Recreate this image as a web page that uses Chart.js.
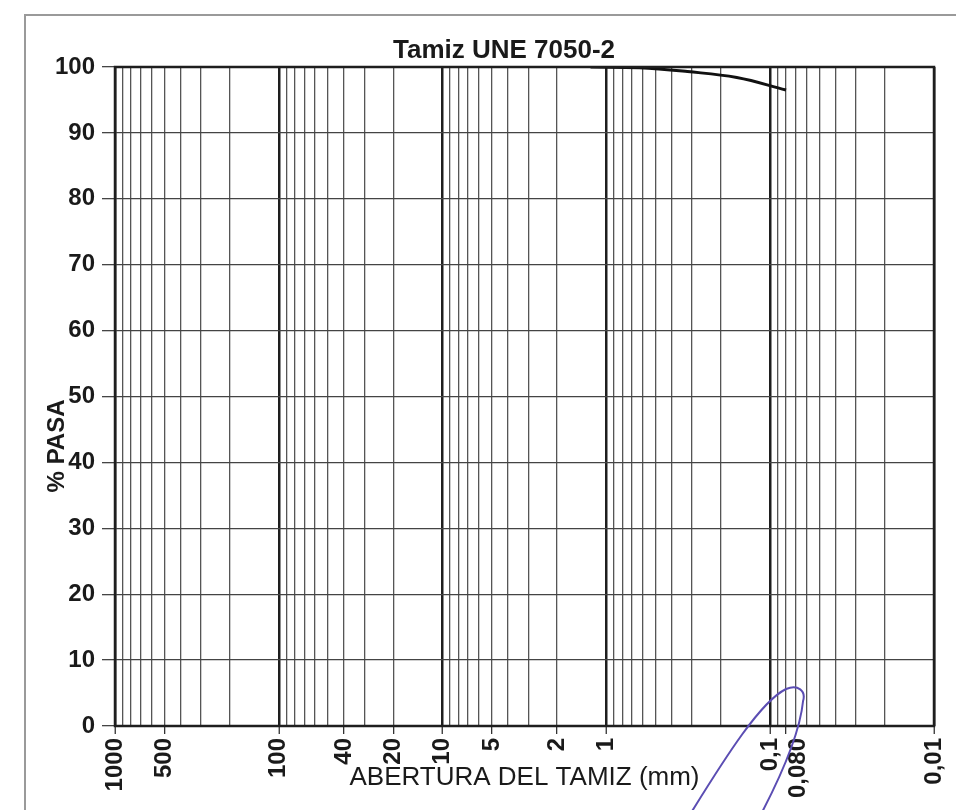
<!DOCTYPE html>
<html lang="es">
<head>
    <meta charset="UTF-8">
    <title>Tamiz UNE 7050-2</title>
    <script src="https://cdn.jsdelivr.net/npm/chart.js"></script>
    <style>
        html, body { margin: 0; padding: 0; background: #fff; }
        #wrap { width: 956px; height: 810px; position: relative; }
    </style>
</head>
<body>
<div id="wrap">
    <canvas id="granChart" width="956" height="810"></canvas>
</div>
<script>
    // abertura de tamiz (mm) y % que pasa
    const sieveSizes = [1.25, 0.63, 0.32, 0.16, 0.08];
    const pasaValues = [100, 99.9, 99.3, 98.4, 96.5];

    // etiquetas del eje X
    const xTickValues = [1000, 500, 100, 40, 20, 10, 5, 2, 1, 0.1, 0.08, 0.01];
    const xTickLabels = ['1000', '500', '100', '40', '20', '10', '5', '2', '1', '0,1', '0,080', '0,01'];

    // rejilla logaritmica
    const decades = [0.01, 0.1, 1, 10, 100];
    const multiples = [1, 2, 3, 4, 5, 6, 7, 8, 9];

    const chartTitle = 'Tamiz UNE 7050-2';
    const xTitle = 'ABERTURA DEL TAMIZ (mm)';
    const yTitle = '% PASA';

    const FONT = "'Liberation Sans', Arial, sans-serif";

    const gridValues = [];
    decades.forEach(d => multiples.forEach(m => gridValues.push(+(d * m).toPrecision(3))));
    gridValues.push(1000);

    function isDecade(v) {
        const l = Math.log10(v);
        return Math.abs(l - Math.round(l)) < 1e-6;
    }
    function labelFor(v) {
        const i = xTickValues.findIndex(t => Math.abs(t - v) / t < 1e-6);
        return i >= 0 ? xTickLabels[i] : '';
    }
    // la etiqueta 0,080 va corrida a la derecha para no pisar 0,1
    const shiftedValue = 0.08;
    function isShifted(v) { return Math.abs(v - shiftedValue) < 1e-9; }

    const points = sieveSizes.map((s, i) => ({ x: s, y: pasaValues[i] }));

    // marco, titulo, borde del grafico y anotacion a mano
    const extras = {
        id: 'extras',
        beforeDraw(chart) {
            const c = chart.ctx;
            c.save();
            c.fillStyle = '#fff';
            c.fillRect(0, 0, chart.width, chart.height);
            c.strokeStyle = '#9a9a9a';
            c.lineWidth = 2;
            c.beginPath();
            c.moveTo(25, chart.height);
            c.lineTo(25, 15);
            c.lineTo(chart.width, 15);
            c.stroke();
            c.restore();
        },
        afterDraw(chart) {
            const c = chart.ctx;
            const a = chart.chartArea;
            const ys = chart.scales.y;
            const xs = chart.scales.x;
            c.save();
            c.strokeStyle = '#1e1e1e';
            c.lineWidth = 2.5;
            c.strokeRect(a.left, a.top, a.right - a.left, a.bottom - a.top);

            c.fillStyle = '#1a1a1a';
            c.font = 'bold 26px ' + FONT;
            c.textAlign = 'center';
            c.textBaseline = 'alphabetic';
            c.fillText(chartTitle, 504, 58);

            c.translate(57, ys.getPixelForValue(42.5));
            c.rotate(-Math.PI / 2);
            c.font = 'bold 24px ' + FONT;
            c.textBaseline = 'middle';
            c.fillText(yTitle, 0, 0);
            c.restore();

            // elipse morada dibujada a mano alrededor de 0,080
            const px = xs.getPixelForValue(0.08);
            const py = a.bottom;
            c.save();
            c.strokeStyle = '#5b4db3';
            c.lineWidth = 2;
            c.beginPath();
            c.moveTo(px - 97, py + 90);
            c.bezierCurveTo(px - 60, py + 30, px - 25, py - 25, px, py - 37);
            c.bezierCurveTo(px + 12, py - 42, px + 20, py - 35, px + 17, py - 25);
            c.bezierCurveTo(px + 14, py + 5, px - 5, py + 50, px - 26, py + 90);
            c.stroke();
            c.restore();
        }
    };

    new Chart(document.getElementById('granChart'), {
        type: 'line',
        data: {
            datasets: [{
                data: points,
                borderColor: '#111',
                borderWidth: 3,
                pointRadius: 0,
                tension: 0.4,
                fill: false
            }]
        },
        plugins: [extras],
        options: {
            responsive: false,
            animation: false,
            layout: { padding: { top: 67, left: 0, right: 22, bottom: 0 } },
            plugins: {
                legend: { display: false },
                title: { display: false },
                tooltip: { enabled: false }
            },
            scales: {
                x: {
                    type: 'logarithmic',
                    reverse: true,
                    min: 0.01,
                    max: 1000,
                    afterBuildTicks(scale) {
                        scale.ticks = gridValues.map(v => ({ value: v }));
                    },
                    afterFit(scale) { scale.height = 84; },
                    border: { display: false },
                    grid: {
                        color: ctx => isDecade(ctx.tick.value) ? '#1e1e1e' : '#555',
                        lineWidth: ctx => isDecade(ctx.tick.value) ? 2.5 : 1.3,
                        tickColor: ctx => labelFor(ctx.tick.value) ? '#333' : 'rgba(0,0,0,0)',
                        tickWidth: 1.3,
                        tickLength: 8
                    },
                    ticks: {
                        autoSkip: false,
                        minRotation: 90,
                        maxRotation: 90,
                        padding: 4,
                        color: '#1a1a1a',
                        font: ctx => ({
                            family: FONT, size: 24, weight: 'bold',
                            lineHeight: (ctx.tick && isShifted(ctx.tick.value)) ? '12px' : 1.2
                        }),
                        callback: v => isShifted(v) ? ['', labelFor(v)] : labelFor(v)
                    },
                    title: {
                        display: true,
                        text: xTitle,
                        color: '#1a1a1a',
                        font: { family: FONT, size: 26 },
                        padding: { top: 0, bottom: 17 }
                    }
                },
                y: {
                    min: 0,
                    max: 100,
                    afterFit(scale) { scale.width = 115; },
                    border: { display: false },
                    grid: {
                        color: '#444',
                        lineWidth: 1.3,
                        tickColor: '#444',
                        tickLength: 13
                    },
                    ticks: {
                        stepSize: 10,
                        padding: 7,
                        color: '#1a1a1a',
                        font: { family: FONT, size: 24, weight: 'bold' }
                    }
                }
            }
        }
    });
</script>
</body>
</html>
